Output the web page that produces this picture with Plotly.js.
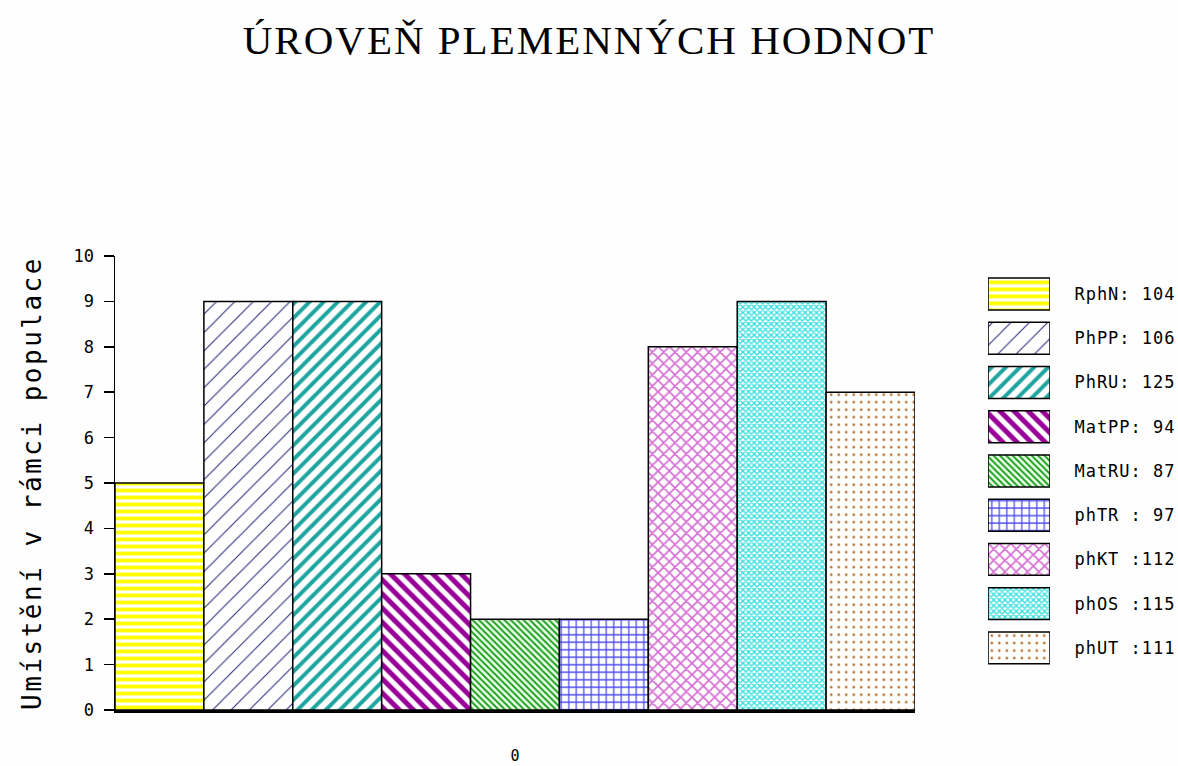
<!DOCTYPE html>
<html><head><meta charset="utf-8">
<script src="https://cdn.plot.ly/plotly-3.0.1.min.js"></script>
<style>
html,body{margin:0;padding:0;background:#fefefe}
.gtitle{letter-spacing:2px}
.ytitle{letter-spacing:2.5px}
.y2tick text{letter-spacing:1px}
</style>
</head><body><div id="chart" style="width:1178px;height:766px"></div>
<script>
const category = ["0"];
const seriesNames = ["RphN","PhPP","PhRU","MatPP","MatRU","phTR","phKT","phOS","phUT"];
const legendLabels = ["RphN: 104","PhPP: 106","PhRU: 125","MatPP: 94","MatRU: 87","phTR : 97","phKT :112","phOS :115","phUT :111"];
const ranks = [5,9,9,3,2,2,8,9,7];
const yTickVals = [0,1,2,3,4,5,6,7,8,9,10];

const patShape = ["-","/","/","\\","\\","+","x","x","."];
const patFg = ["#ffff00","#2a2a7a","#1ea5a0","#990099","#1a9a1a","#4848ee","#d46ed4","#30dede","#b8702c"];
const patBg = ["#ffffff","#ffffff","#ffffff","#ffffff","#e6ffe6","#ffffff","#ffffff","#ffffff","#ffffff"];
const patSize = [7,13,10,10,4.5,7.5,8,4,7.5];
const patSolid = [0.55,0.08,0.4,0.5,0.4,0.3,0.38,0.55,0.1];

const traces = seriesNames.map((name,i)=>({
  type:'bar', name:name, x:category, y:[ranks[i]], xaxis:'x', yaxis:'y',
  marker:{color:'#ffffff', line:{color:'#000000', width:1.5},
    pattern:{shape:patShape[i], fgcolor:patFg[i], bgcolor:patBg[i], size:patSize[i], solidity:patSolid[i], fillmode:'replace'}},
  showlegend:false, hoverinfo:'skip'
}));

traces.push({
  type:'bar', orientation:'h', x:legendLabels.map(()=>1), y:legendLabels, xaxis:'x2', yaxis:'y2',
  width:0.72, showlegend:false, hoverinfo:'skip',
  marker:{color:'#ffffff', line:{color:'#000000', width:1.5},
    pattern:{shape:patShape, fgcolor:patFg, bgcolor:patBg, size:patSize, solidity:patSolid, fillmode:'replace'}}
});

const mono = 'DejaVu Sans Mono, monospace';
const layout = {
  width:1178, height:766,
  paper_bgcolor:'#fefefe', plot_bgcolor:'#fefefe',
  margin:{l:115, r:0, t:256, b:56},
  barmode:'group', bargap:0, bargroupgap:0,
  title:{text:'ÚROVEŇ PLEMENNÝCH HODNOT', font:{family:'Liberation Serif, serif', size:41, color:'#000'},
    x:0.5, xref:'container', xanchor:'center', y:1-40/766, yref:'container', yanchor:'middle'},
  xaxis:{type:'category', domain:[0, 800/1063], range:[-0.5,0.5], showline:true, linewidth:3, linecolor:'#000',
    ticks:'outside', ticklen:30, tickcolor:'rgba(0,0,0,0)', tickfont:{family:mono, size:15, color:'#000'},
    showgrid:false, zeroline:false, fixedrange:true},
  yaxis:{range:[0,10], tickvals:yTickVals, ticks:'outside', ticklen:10, tickwidth:1.5, tickcolor:'#000',
    showline:true, linewidth:1.5, linecolor:'#000', showgrid:false, zeroline:false,
    tickfont:{family:mono, size:17, color:'#000'}, ticklabelstandoff:6,
    title:{text:'Umístění v rámci populace', font:{family:mono, size:26, color:'#000'}, standoff:24}},
  xaxis2:{domain:[0.8213,0.8796], range:[0,1], anchor:'y2', visible:false, fixedrange:true},
  yaxis2:{domain:[0.088,0.965], anchor:'x2', side:'right', autorange:'reversed', type:'category',
    showline:false, showgrid:false, zeroline:false, ticks:'outside', ticklen:20, tickcolor:'rgba(0,0,0,0)',
    tickfont:{family:mono, size:17, color:'#000'}}
};
Plotly.newPlot('chart', traces, layout, {displayModeBar:false, staticPlot:true});
</script></body></html>
